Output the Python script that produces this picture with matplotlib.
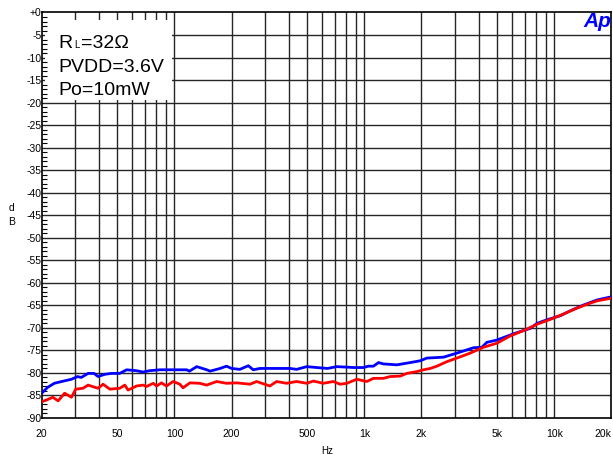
import matplotlib
matplotlib.use("Agg")
import matplotlib.pyplot as plt
from matplotlib.patches import Rectangle
from matplotlib.ticker import FixedLocator, NullFormatter

# Crosstalk sweep, RL=32 ohm, PVDD=3.6V, Po=10mW
blue_freq = [20, 21.5, 23.3, 25.5, 28.7, 30.9, 32.3, 35.1, 37.7, 39.6, 43, 46.6,
             51.5, 56, 63, 68.4, 74, 84, 98, 116, 120, 131, 148, 154, 174, 188,
             200, 221, 245, 260, 282, 332, 406, 440, 498, 561, 640, 716, 800,
             880, 988, 1050, 1117, 1187, 1260, 1483, 1743, 1969, 2134, 2612,
             3070, 3760, 4160, 4420, 4990, 6110, 7480, 8110, 9160, 10770,
             12160, 14300, 16820, 20000]
blue_db = [-84.5, -83.2, -82.3, -81.9, -81.4, -80.8, -81.0, -80.1, -80.1, -80.8,
           -80.3, -80.1, -80.1, -79.3, -79.5, -79.8, -79.5, -79.3, -79.3, -79.3,
           -79.6, -78.6, -79.3, -79.6, -79.0, -78.5, -79.0, -79.2, -78.4, -79.3,
           -79.0, -79.0, -79.0, -79.2, -78.6, -78.8, -79.0, -78.6, -78.7, -78.8,
           -78.8, -78.5, -78.5, -77.7, -78.0, -78.2, -77.7, -77.3, -76.7, -76.5,
           -75.6, -74.4, -74.3, -73.2, -72.7, -71.3, -70.1, -69.0, -68.2, -67.3,
           -66.2, -64.9, -63.8, -63.1]

red_freq = [20, 21.2, 22.9, 24.4, 26.4, 28.7, 30.2, 33, 35.1, 39.6, 42.1, 45.7,
            51.5, 54.8, 57, 63.1, 68.4, 71.3, 77.3, 80.5, 85.5, 90.8, 98.4, 106.8,
            111, 120.6, 136, 147.7, 167, 188, 213, 250, 271, 318, 345, 390, 440,
            498, 539, 608, 687, 745, 809, 912, 1030, 1117, 1260, 1368, 1545, 1675,
            1892, 2050, 2223, 2410, 2720, 3070, 3610, 4240, 4990, 5860, 6900,
            8110, 9550, 11220, 13190, 15490, 16820, 20000]
red_db = [-86.4, -86.0, -85.4, -86.2, -84.5, -85.4, -83.6, -83.4, -82.7, -83.4,
          -82.5, -83.6, -83.4, -82.7, -83.8, -82.9, -82.7, -83.0, -82.3, -82.9,
          -82.2, -82.9, -81.9, -82.5, -83.3, -82.2, -82.3, -82.7, -81.9, -82.3,
          -82.2, -82.5, -81.9, -82.9, -81.9, -82.3, -81.9, -82.3, -81.8, -82.3,
          -81.9, -82.5, -82.3, -81.4, -81.9, -81.2, -81.2, -80.8, -80.7, -80.1,
          -79.7, -79.3, -79.0, -78.5, -77.5, -76.7, -75.6, -74.3, -73.4, -71.8,
          -70.6, -69.2, -68.1, -66.9, -65.6, -64.5, -64.0, -63.4]

x_ticks = [20, 50, 100, 200, 500, 1000, 2000, 5000, 10000, 20000]
x_labels = ["20", "50", "100", "200", "500", "1k", "2k", "5k", "10k", "20k"]
x_grid = [30, 40, 50, 60, 70, 80, 90, 100, 200, 300, 400, 500, 600, 700, 800,
          900, 1000, 2000, 3000, 4000, 5000, 6000, 7000, 8000, 9000, 10000]
y_ticks = list(range(0, -95, -5))
y_labels = ["+0"] + [str(v) for v in y_ticks[1:]]

narrow = ["Liberation Sans Narrow", "Liberation Sans"]

W, H = 613, 455
fig = plt.figure(figsize=(W / 100, H / 100), dpi=100)
left, right, top, bottom = 41.7, 611.4, 12.5, 418.0
ax = fig.add_axes([left / W, (H - bottom) / H, (right - left) / W, (bottom - top) / H])

ax.set_xscale("log")
ax.set_xlim(20, 20000)
ax.set_ylim(-90, 0)

for f in x_grid:
    ax.axvline(f, color="#262626", lw=1.0, zorder=0.5)
for v in y_ticks[1:-1]:
    ax.axhline(v, color="#262626", lw=1.0, zorder=0.5)

ax.plot(blue_freq, blue_db, color="#0000ff", lw=2.0, zorder=3)
ax.plot(red_freq, red_db, color="#ff0000", lw=2.0, zorder=3)

ax.xaxis.set_major_locator(FixedLocator(x_ticks))
ax.xaxis.set_minor_locator(FixedLocator([]))
ax.set_xticklabels(x_labels, fontsize=7.5, family=narrow)
ax.xaxis.set_minor_formatter(NullFormatter())
ax.tick_params(axis="x", which="major", length=0, pad=8)
last = ax.get_xticklabels()[-1]
last.set_horizontalalignment("right")
last.set_x(20000)

ax.set_yticks(y_ticks)
ax.set_yticklabels(y_labels, fontsize=7.5, family=narrow)
ax.yaxis.set_minor_locator(FixedLocator(list(range(0, -91, -1))))
ax.tick_params(axis="y", which="major", length=0, pad=0)
ax.tick_params(axis="y", which="minor", direction="in", length=3.5, width=0.8)

for s in ax.spines.values():
    s.set_linewidth(1.2)
    s.set_color("black")

# legend box
x0 = (45 - left) / (right - left)
x1 = (171.7 - left) / (right - left)
y0 = (bottom - 100) / (bottom - top)
y1 = (bottom - 20) / (bottom - top)
ax.add_patch(Rectangle((x0, y0), x1 - x0, y1 - y0, transform=ax.transAxes,
                       facecolor="white", edgecolor="none", zorder=1))


def px(x, y):
    return x / W, 1 - y / H


fs = 14
fig.text(*px(58, 48.5), "R", fontsize=fs, family="Liberation Sans", va="baseline")
fig.text(*px(74.5, 48.5), "L", fontsize=7, family="Liberation Sans", va="baseline")
fig.text(*px(80.5, 48.5), "=32Ω", fontsize=fs, family="Liberation Sans", va="baseline")
fig.text(*px(58, 71.8), "PVDD=3.6V", fontsize=fs, family="Liberation Sans", va="baseline")
fig.text(*px(58, 95), "Po=10mW", fontsize=fs, family="Liberation Sans", va="baseline")

fig.text(*px(611, 12), "Ap", fontsize=15, color="#0000ff", fontweight="bold",
         style="italic", family=narrow, ha="right", va="top")

fig.text(*px(12, 208), "d", fontsize=7.5, family="Liberation Sans", ha="center", va="center")
fig.text(*px(12, 222), "B", fontsize=7.5, family="Liberation Sans", ha="center", va="center")
fig.text(*px(327, 451), "Hz", fontsize=7, family=narrow, ha="center", va="center")

fig.savefig("out.png", dpi=100)
